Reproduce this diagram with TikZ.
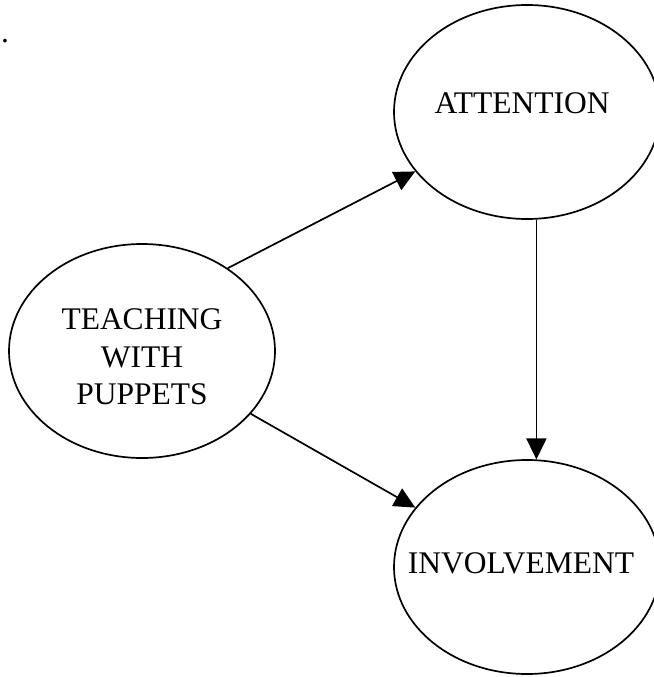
\documentclass[tikz,border=0pt]{standalone}
\usepackage{fontspec}
\setmainfont{Liberation Serif}
\usetikzlibrary{shapes.geometric,arrows.meta}
\tikzset{
  bubble/.style={draw,ellipse,line width=1.7pt,minimum width=266pt,minimum height=214pt,inner sep=0pt},
  caption/.style={font=\fontsize{31.5}{37.5}\selectfont,align=center,inner sep=0pt},
  link/.style={line width=1.7pt,-{Triangle[length=21pt,width=20pt]}}
}
\begin{document}
\begin{tikzpicture}[x=1pt,y=-1pt]
   \useasboundingbox (0,0) rectangle (653,677);
   \node[bubble] (teach) at (142,351) {};
   \node[bubble] (att) at (527,112) {};
   \node[bubble] (inv) at (527,567) {};

   \node[caption] (teachtext) at (142,357) {TEACHING\\WITH\\PUPPETS};
   \node[caption] (atttext) at (522,103) {ATTENTION};
   \node[caption] (invtext) at (521,563) {INVOLVEMENT};
   \node[caption,anchor=base west] (dot) at (1,43) {.};

   \draw[link] (teach.44) -- (att.208);
   \draw[link] (teach.-30) -- (inv.152);
   \draw[link] (att.-85) -- (inv.85);
\end{tikzpicture}
\end{document}
